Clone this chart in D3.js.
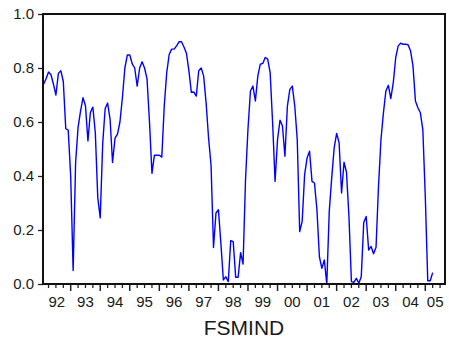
<!DOCTYPE html>
<html>
<head>
<meta charset="utf-8">
<script src="https://cdn.jsdelivr.net/npm/d3@7"></script>
<style>
	body { margin: 0; background: white; }
	text { font-family: "Liberation Sans", Arial, sans-serif; fill: #1a1a1a; }
</style>
</head>
<body>
<script>
// Monthly series, first observation is 1992M2
var startYear = 1992
var startMonth = 2
var fsmind = [
	0.74, 0.76, 0.785, 0.775, 0.74, 0.70, 0.78, 0.79, 0.75, 0.575, 0.57,          // 1992 (Feb-Dec)
	0.40, 0.05, 0.45, 0.58, 0.64, 0.69, 0.66, 0.53, 0.635, 0.655, 0.56, 0.32,    // 93 (from Jan)
	0.245, 0.52, 0.65, 0.67, 0.61, 0.45, 0.54, 0.555, 0.60, 0.69, 0.80, 0.848,
	0.848, 0.815, 0.80, 0.733, 0.80, 0.823, 0.80, 0.76, 0.60, 0.41, 0.477, 0.477,
	0.477, 0.47, 0.66, 0.783, 0.85, 0.87, 0.87, 0.882, 0.897, 0.897, 0.878, 0.855,
	0.79, 0.71, 0.711, 0.696, 0.79, 0.80, 0.77, 0.67, 0.54, 0.44, 0.135, 0.263,
	0.275, 0.15, 0.015, 0.027, 0.009, 0.161, 0.157, 0.025, 0.025, 0.116, 0.074, 0.387,
	0.575, 0.715, 0.733, 0.678, 0.771, 0.814, 0.817, 0.839, 0.833, 0.783, 0.597, 0.38,
	0.535, 0.607, 0.585, 0.473, 0.659, 0.721, 0.733, 0.659, 0.535, 0.194, 0.232, 0.405,
	0.467, 0.492, 0.38, 0.374, 0.275, 0.101, 0.058, 0.089, 0.0, 0.269, 0.393, 0.504,
	0.558, 0.523, 0.337, 0.451, 0.414, 0.25, 0.009, 0.006, 0.021, 0.003, 0.027, 0.228,
	0.25, 0.126, 0.139, 0.112, 0.136, 0.362, 0.535, 0.634, 0.715, 0.736, 0.687, 0.746,
	0.839, 0.882, 0.892, 0.888, 0.888, 0.886, 0.864, 0.808, 0.678, 0.653, 0.634, 0.572,
	0.325, 0.012, 0.012, 0.042
]
var yTicks = [0.0, 0.2, 0.4, 0.6, 0.8, 1.0]
var yearLabels = ["92", "93", "94", "95", "96", "97", "98", "99", "00", "01", "02", "03", "04", "05"]
var seriesName = "FSMIND"

var width = 449, height = 342
// plot box (careful: "top" is taken by window.top)
var boxLeft = 43, boxRight = 445, boxTop = 14, boxBottom = 284

var svg = d3.select("body").append("svg")
	.attr("width", width).attr("height", height)

// x works on decimal years, the axis starts a little after 1992 and ends after 2005Q2
var x = d3.scaleLinear().domain([1992.063, 2005.667]).range([boxLeft, boxRight])
var y = d3.scaleLinear().domain([0, 1]).range([boxBottom, boxTop])

var points = fsmind.map(function(v, i) {
	return { t: startYear + (startMonth - 1 + i) / 12, v: v }
})

// y axis
var yAxis = d3.axisLeft(y).tickValues(yTicks).tickFormat(d3.format(".1f"))
	.tickSize(5).tickPadding(4)
var gy = svg.append("g").attr("transform", "translate(" + boxLeft + ",0)").call(yAxis)
gy.select(".domain").remove()
gy.selectAll(".tick line").attr("stroke", "#222").attr("stroke-width", 1.3)
gy.selectAll("text").attr("font-size", 15).attr("fill", "#1a1a1a")
	.attr("font-family", "Liberation Sans, Arial, sans-serif")

// x axis: quarters as minor ticks, years as major ticks
var minor = [], major = []
for (var q = 1992 * 4; q <= 2006 * 4; q++) {
	var t = q / 4
	if (t < x.domain()[0] || t > x.domain()[1]) continue
	if (q % 4 == 0) major.push(t)
	else minor.push(t)
}
var gx = svg.append("g").attr("transform", "translate(0," + boxBottom + ")")
gx.selectAll(".minor").data(minor).enter().append("line")
	.attr("x1", function(d) { return x(d) }).attr("x2", function(d) { return x(d) })
	.attr("y1", 0).attr("y2", 4).attr("stroke", "#222").attr("stroke-width", 1.3)
gx.selectAll(".major").data(major).enter().append("line")
	.attr("x1", function(d) { return x(d) }).attr("x2", function(d) { return x(d) })
	.attr("y1", 0).attr("y2", 7).attr("stroke", "#222").attr("stroke-width", 1.5)

// year labels sit in the middle of the visible part of each year
gx.selectAll(".yr").data(yearLabels).enter().append("text")
	.attr("x", function(d, i) {
		var a = Math.max(x(1992 + i), boxLeft)
		var b = Math.min(x(1993 + i), boxRight)
		return (a + b) / 2
	})
	.attr("y", 23)
	.attr("text-anchor", "middle")
	.attr("font-size", 15)
	.text(function(d) { return d })

// the line
var line = d3.line().x(function(d) { return x(d.t) }).y(function(d) { return y(d.v) })
svg.append("path").datum(points)
	.attr("d", line)
	.attr("fill", "none")
	.attr("stroke", "#0000ff")
	.attr("stroke-width", 1.4)
	.attr("stroke-linejoin", "round")

// frame round the plot
svg.append("rect")
	.attr("x", boxLeft).attr("y", boxTop)
	.attr("width", boxRight - boxLeft).attr("height", boxBottom - boxTop)
	.attr("fill", "none").attr("stroke", "#111").attr("stroke-width", 2)

svg.append("text")
	.attr("x", (boxLeft + boxRight) / 2).attr("y", 335)
	.attr("text-anchor", "middle")
	.attr("font-size", 21)
	.text(seriesName)
</script>
</body>
</html>
